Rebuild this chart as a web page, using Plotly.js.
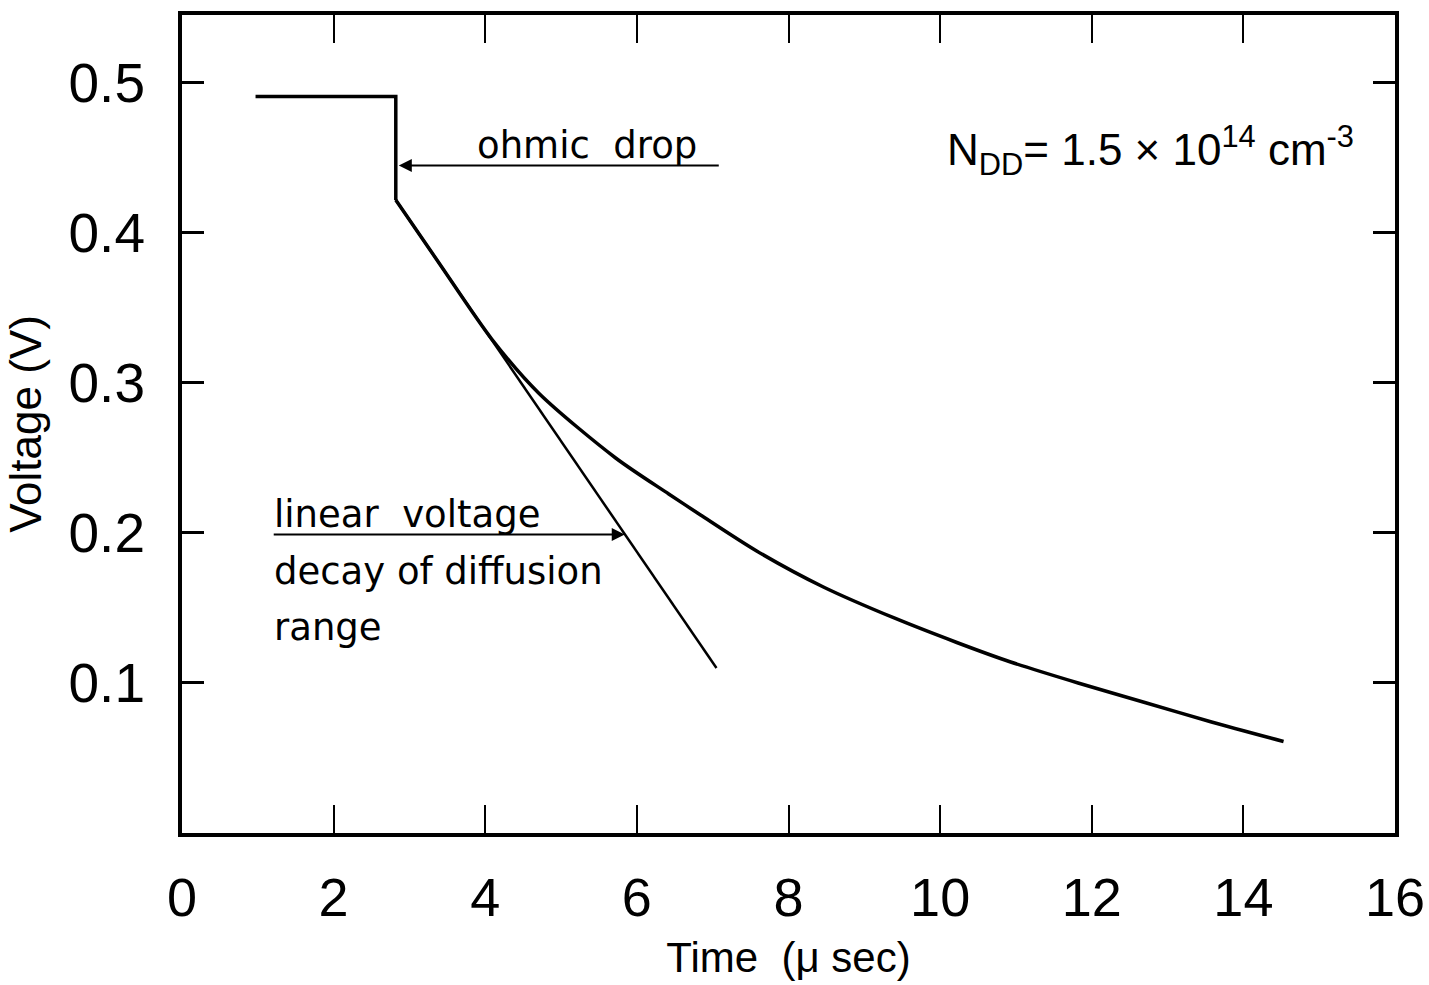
<!DOCTYPE html>
<html>
<head>
<meta charset="utf-8">
<script src="https://cdn.plot.ly/plotly-3.0.1.min.js"></script>
<style>
  html, body { margin: 0; padding: 0; background: #fff; }
  #chart { width: 1429px; height: 985px; }
</style>
</head>
<body>
<div id="chart"></div>
<script>
// Measured voltage transient (Time in microseconds, Voltage in V)
// Step part: steady voltage, then the ohmic drop
const stepTime = [0.97, 2.82, 2.82];
const stepVolt = [0.491, 0.491, 0.422];
// Decay part after the ohmic drop
const decayTime = [2.82, 3.39, 4.09, 4.71, 5.72, 6.42, 6.84, 7.58, 8.46, 9.41, 10.22, 10.93, 11.82, 12.70, 13.58, 14.53];
const decayVolt = [0.422, 0.380, 0.329, 0.293, 0.250, 0.226, 0.212, 0.188, 0.164, 0.143, 0.127, 0.114, 0.100, 0.087, 0.074, 0.061];

// Linear voltage decay of diffusion range (tangent line)
const linTime = [2.82, 7.05];
const linVolt = [0.422, 0.110];

// Axis ticks
const xTicks = [0, 2, 4, 6, 8, 10, 12, 14, 16];
const yTicks = [0.1, 0.2, 0.3, 0.4, 0.5];
const yTickText = ["0.1", "0.2", "0.3", "0.4", "0.5"];

const FONT = "Liberation Sans, Arial, sans-serif";
const AFONT = "DejaVu Sans, Liberation Sans, sans-serif";

const traces = [
  {
    x: stepTime, y: stepVolt, type: "scatter", mode: "lines",
    line: { color: "#000", width: 3.5 }, hoverinfo: "skip", showlegend: false
  },
  {
    x: decayTime, y: decayVolt, type: "scatter", mode: "lines",
    line: { color: "#000", width: 3.5, shape: "spline", smoothing: 0.8 }, hoverinfo: "skip", showlegend: false
  },
  {
    x: linTime, y: linVolt, type: "scatter", mode: "lines",
    line: { color: "#000", width: 2.5 }, hoverinfo: "skip", showlegend: false
  }
];

const txt = { family: AFONT, size: 37, color: "#000" };

const layout = {
  width: 1429, height: 985,
  margin: { l: 182, r: 34, t: 15, b: 152 },
  paper_bgcolor: "#fff", plot_bgcolor: "#fff",
  showlegend: false,
  xaxis: {
    range: [0, 16], tickvals: xTicks, ticktext: xTicks.map(String),
    ticks: "inside", ticklen: 28, tickwidth: 2, tickcolor: "#000",
    showline: true, linecolor: "#000", linewidth: 4, mirror: "ticks",
    showgrid: false, zeroline: false,
    tickfont: { family: FONT, size: 54, color: "#000" },
    ticklabelstandoff: 14,
    title: { text: "Time  (\u03bc sec)", font: { family: FONT, size: 42, color: "#000" }, standoff: 18 }
  },
  yaxis: {
    range: [0, 0.5453], tickvals: yTicks, ticktext: yTickText,
    ticks: "inside", ticklen: 22, tickwidth: 3, tickcolor: "#000",
    showline: true, linecolor: "#000", linewidth: 4, mirror: "ticks",
    showgrid: false, zeroline: false,
    tickfont: { family: FONT, size: 55, color: "#000" },
    ticklabelstandoff: 22,
    title: { text: "Voltage (V)", font: { family: FONT, size: 44, color: "#000" }, standoff: 14 }
  },
  annotations: [
    // ohmic drop arrow + underline
    { x: 2.86, y: 0.445, ax: 7.1, ay: 0.445, xref: "x", yref: "y", axref: "x", ayref: "y",
      text: "", showarrow: true, arrowhead: 2, arrowsize: 1.3, arrowwidth: 2, arrowcolor: "#000" },
    { x: 3.86, y: 0.458, xref: "x", yref: "y", text: "ohmic  drop", showarrow: false,
      xanchor: "left", yanchor: "middle", font: txt },
    // linear voltage arrow + underline
    { x: 5.84, y: 0.199, ax: 1.19, ay: 0.199, xref: "x", yref: "y", axref: "x", ayref: "y",
      text: "", showarrow: true, arrowhead: 2, arrowsize: 1.3, arrowwidth: 2, arrowcolor: "#000" },
    { x: 1.19, y: 0.212, xref: "x", yref: "y", text: "linear  voltage", showarrow: false,
      xanchor: "left", yanchor: "middle", font: txt },
    { x: 1.19, y: 0.174, xref: "x", yref: "y", text: "decay of diffusion", showarrow: false,
      xanchor: "left", yanchor: "middle", font: txt },
    { x: 1.19, y: 0.137, xref: "x", yref: "y", text: "range", showarrow: false,
      xanchor: "left", yanchor: "middle", font: txt },
    // doping label
    { x: 10.06, y: 0.455, xref: "x", yref: "y",
      text: "N<sub>DD</sub>= 1.5 \u00d7 10<sup>14</sup> cm<sup>-3</sup>", showarrow: false,
      xanchor: "left", yanchor: "middle", font: { family: FONT, size: 44, color: "#000" } }
  ]
};

Plotly.newPlot("chart", traces, layout, { staticPlot: true, displayModeBar: false });
</script>
</body>
</html>
